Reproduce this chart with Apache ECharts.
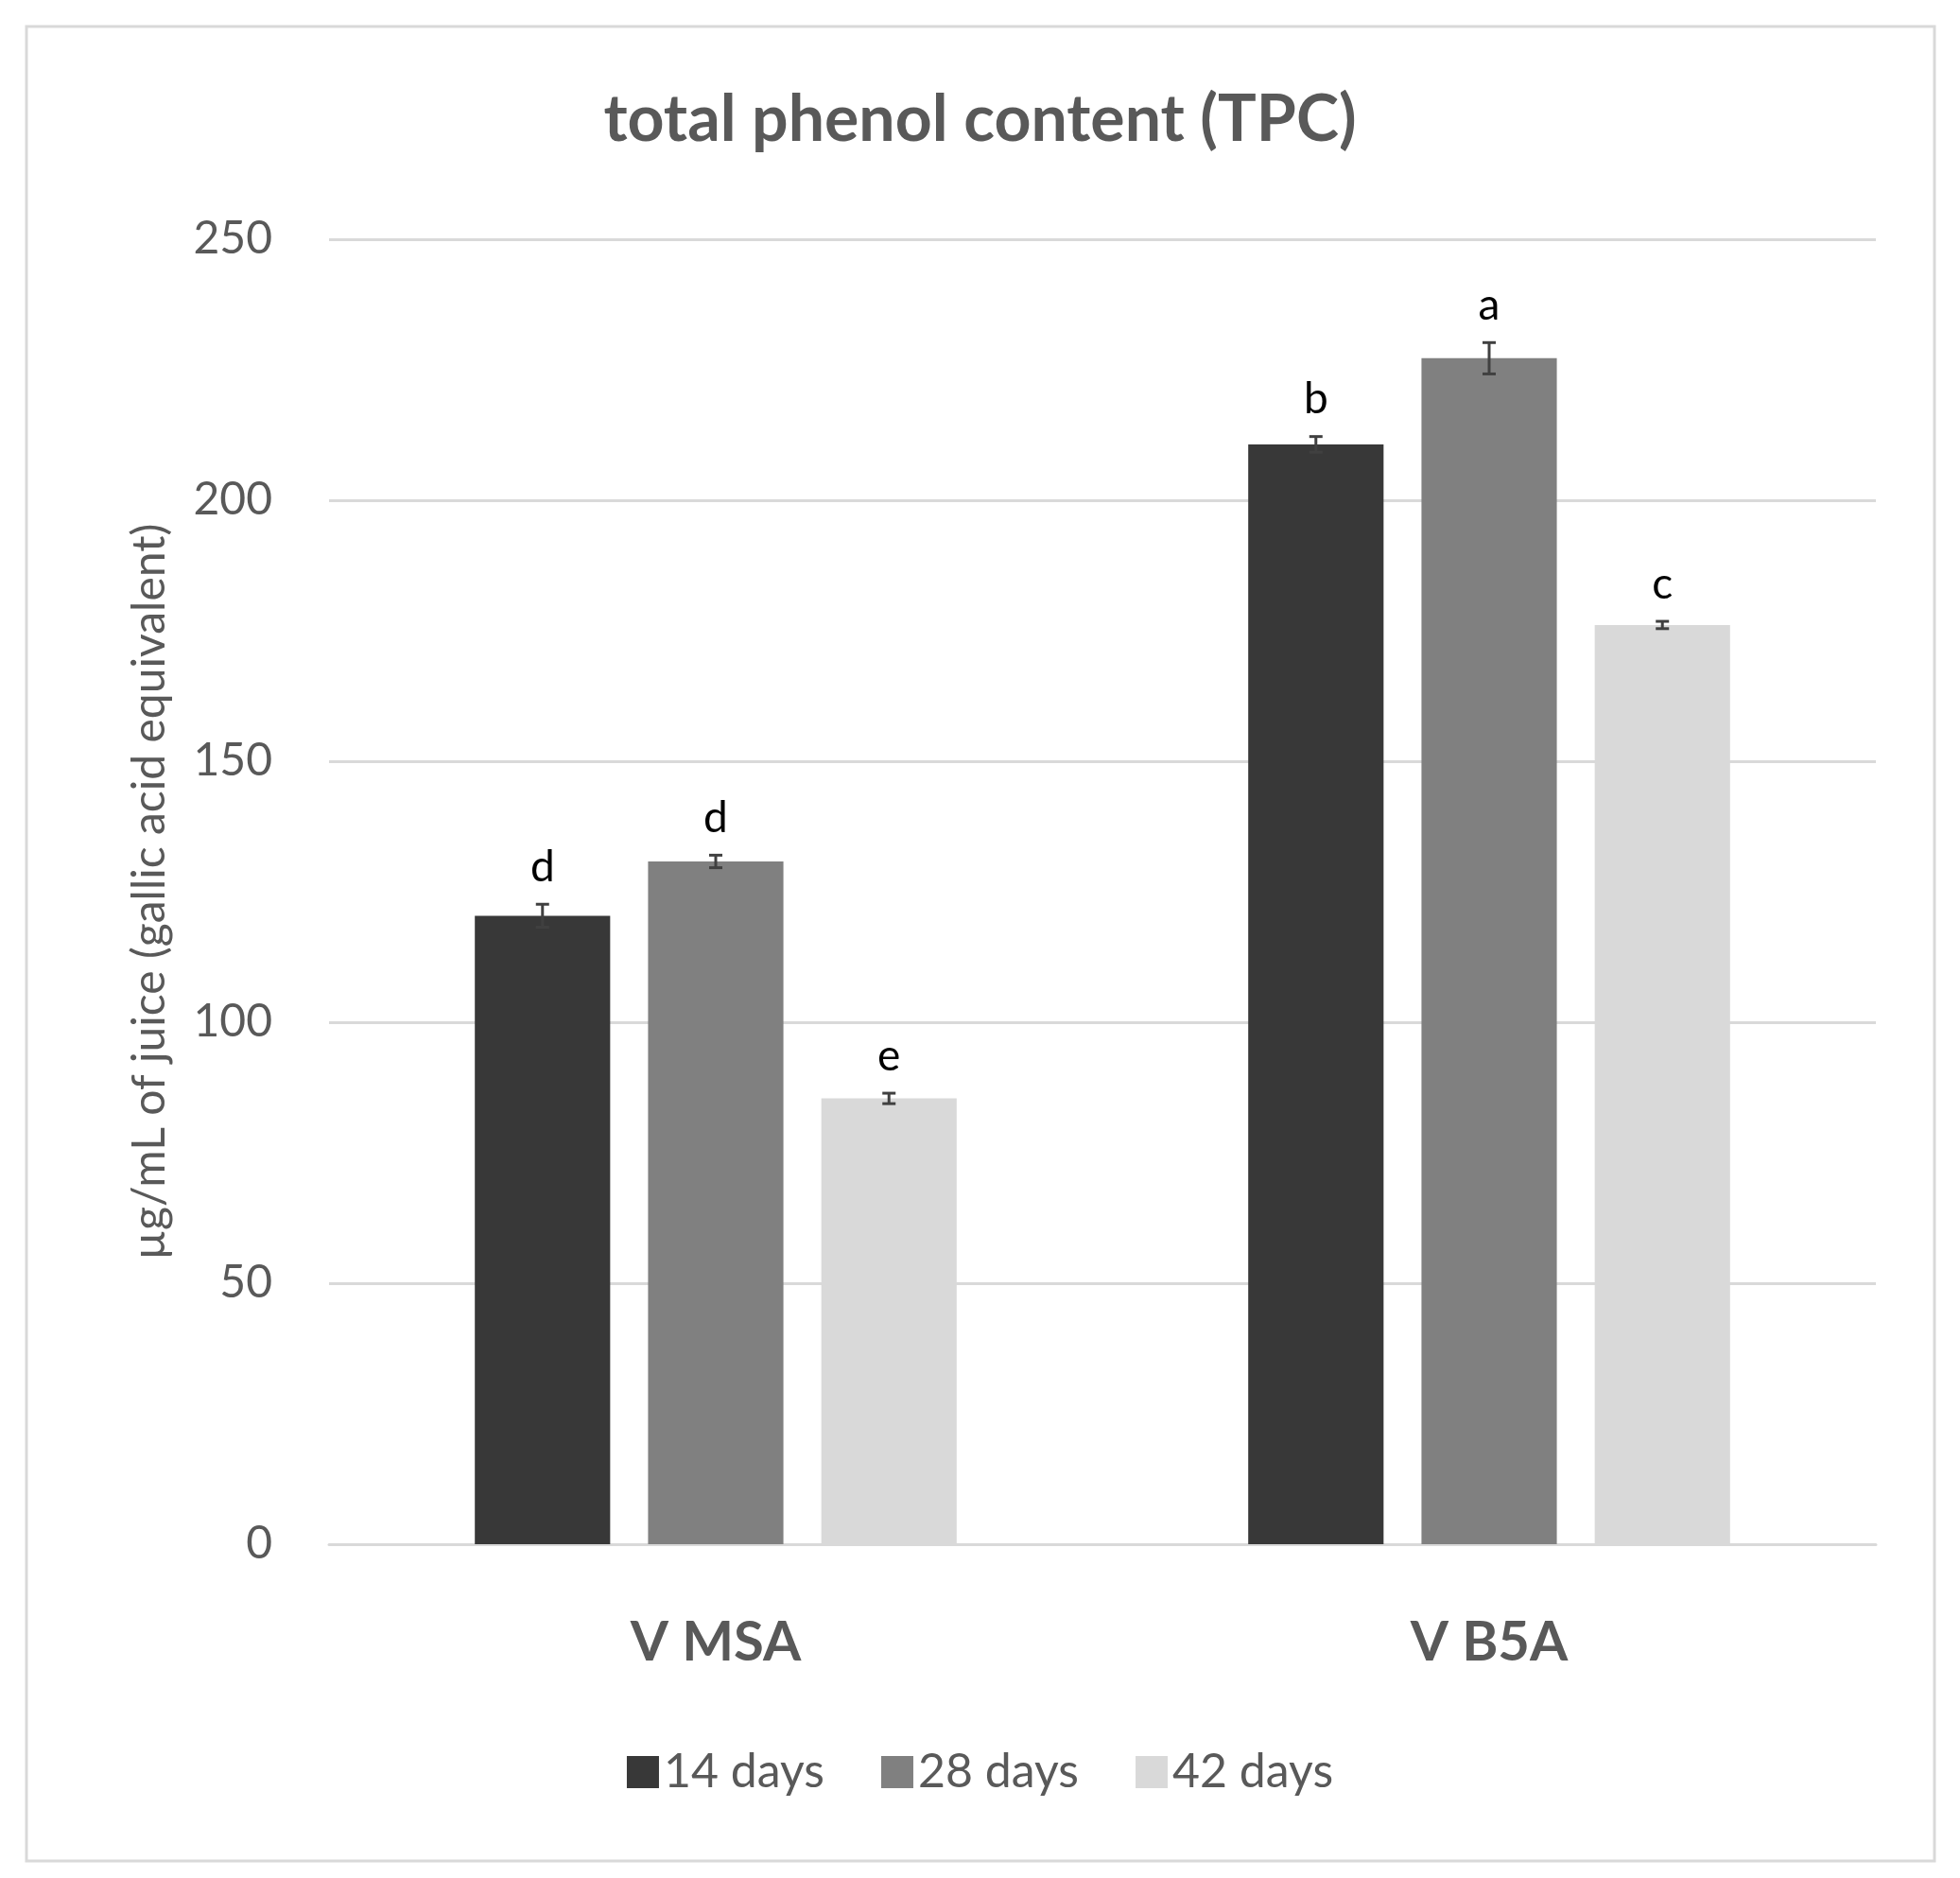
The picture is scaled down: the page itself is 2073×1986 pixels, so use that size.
<!DOCTYPE html>
<html><head><meta charset="utf-8">
<script src="https://cdn.jsdelivr.net/npm/echarts@6/dist/echarts.min.js"></script>
<style>html,body{margin:0;padding:0;background:#fff}#c{width:2073px;height:1986px}</style>
</head><body><div id="c"></div>
<script>
const categories = ['V MSA', 'V B5A'];
const seriesNames = ['14 days', '28 days', '42 days'];
const values = [[120.4, 210.7], [130.8, 227.2], [85.4, 176.1]];
const errors = [[2.2, 1.5], [1.2, 3.0], [1.0, 0.7]];
const letters = [['d', 'b'], ['d', 'a'], ['e', 'c']];
const colors = ['#383838', '#808080', '#d9d9d9'];
const FONT = 'Lato';
const BW = 0.175, GAP = 0.28;

const series = [];
seriesNames.forEach((n, i) => {
  series.push({ name: n, type: 'bar', data: values[i], barWidth: (BW * 100) + '%', barGap: (GAP * 100) + '%', itemStyle: { color: colors[i] }, z: 2 });
});
seriesNames.forEach((n, i) => {
  series.push({
    type: 'custom', z: 5, silent: true,
    data: categories.map((c, j) => [j, values[i][j], errors[i][j], letters[i][j]]),
    renderItem: (params, api) => {
      const w = api.size([1, 0])[0];
      const off = (i - 1) * w * BW * (1 + GAP);
      const v = api.value(1), e = api.value(2);
      const top = api.coord([api.value(0), v + e]);
      const bot = api.coord([api.value(0), v - e]);
      const x = top[0] + off;
      const cap = 7;
      const st = { stroke: '#404040', lineWidth: 3 };
      return { type: 'group', children: [
        { type: 'line', shape: { x1: x, y1: top[1], x2: x, y2: bot[1] }, style: st },
        { type: 'line', shape: { x1: x - cap, y1: top[1], x2: x + cap, y2: top[1] }, style: st },
        { type: 'line', shape: { x1: x - cap, y1: bot[1], x2: x + cap, y2: bot[1] }, style: st },
        { type: 'text', style: { text: letters[i][params.dataIndex], x: x, y: top[1] - 16, textAlign: 'center', textVerticalAlign: 'bottom', fontSize: 46, fontFamily: FONT, fill: '#000' } }
      ]};
    }
  });
});

const chart = echarts.init(document.getElementById('c'));
chart.setOption({
  backgroundColor: '#fff',
  animation: false,
  graphic: [{ type: 'rect', shape: { x: 28, y: 28, width: 2018, height: 1940 }, style: { fill: 'none', stroke: '#d9d9d9', lineWidth: 3 } }],
  title: { text: 'total phenol content (TPC)', left: 'center', top: 88, textStyle: { fontFamily: FONT, fontSize: 68, fontWeight: 'bold', color: '#595959' } },
  grid: { left: 348, right: 89, top: 253, bottom: 353, containLabel: false },
  legend: { data: seriesNames.map((n, i) => ({ name: n, itemStyle: { color: colors[i] } })), bottom: 82, left: 'center', itemWidth: 34, itemHeight: 34, itemGap: 60, textStyle: { fontFamily: FONT, fontSize: 50, color: '#595959' }, icon: 'rect' },
  xAxis: { type: 'category', data: categories, axisLine: { lineStyle: { color: '#d9d9d9', width: 3 } }, axisTick: { show: false }, axisLabel: { margin: 75, fontFamily: FONT, fontSize: 58, fontWeight: 'bold', color: '#595959' } },
  yAxis: { type: 'value', min: 0, max: 250, interval: 50, name: 'µg/mL of juice (gallic acid equivalent)', nameLocation: 'middle', nameGap: 165, nameTextStyle: { fontFamily: FONT, fontSize: 48, color: '#595959' }, axisLine: { show: false }, axisTick: { show: false }, splitLine: { lineStyle: { color: '#d9d9d9', width: 3 } }, axisLabel: { margin: 60, fontFamily: FONT, fontSize: 48, color: '#595959' } },
  series
});
</script></body></html>
